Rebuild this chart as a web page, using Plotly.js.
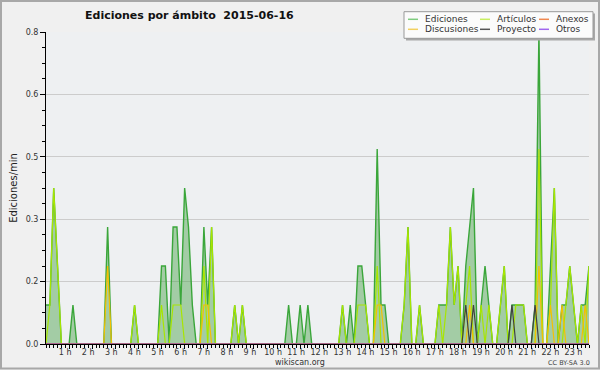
<!DOCTYPE html>
<html><head><meta charset="utf-8">
<script src="https://cdn.plot.ly/plotly-3.0.1.min.js"></script>
<style>html,body{margin:0;padding:0;background:#f0f0f0;}#chart{width:600px;height:370px;}</style>
</head><body><div id="chart"></div>
<script>
// Tick labels (hours of the day)
const hourTicks = [1,2,3,4,5,6,7,8,9,10,11,12,13,14,15,16,17,18,19,20,21,22,23];
const hourLabels = ['1 h','2 h','3 h','4 h','5 h','6 h','7 h','8 h','9 h','10 h','11 h','12 h',
  '13 h','14 h','15 h','16 h','17 h','18 h','19 h','20 h','21 h','22 h','23 h'];

// Edits per minute, 10-minute bins from 00:00 to 23:30 (one row per hour)
const ediciones = [
  0.1,0.1,0.4,0.2,0,0,
  0,0.1,0,0,0,0,
  0,0,0,0,0.3,0,
  0,0,0,0,0,0.1,
  0,0,0,0,0,0,
  0.2,0.2,0,0.3,0.3,0.1,
  0.4,0.3,0.1,0,0,0.3,
  0.1,0.3,0,0,0,0,
  0,0.1,0,0.1,0,0,
  0,0,0,0,0,0,
  0,0,0,0.1,0,0,
  0.1,0,0.1,0,0,0,
  0,0,0,0,0,0.1,
  0,0.1,0,0.2,0.2,0.1,
  0,0,0.5,0.1,0.1,0,
  0,0,0,0.1,0.3,0,
  0,0.1,0,0,0,0,
  0.1,0.1,0.1,0.3,0.1,0.2,
  0,0.2,0.3,0.4,0,0.1,
  0.2,0.1,0,0,0.1,0.2,
  0,0.1,0.1,0.1,0.1,0,
  0,0.1,0.8,0,0,0.2,
  0.4,0,0.1,0.1,0.2,0.1,
  0,0.1,0.1,0.2
];
const articulos = [
  0,0.1,0.4,0.2,0,0,
  0,0,0,0,0,0,
  0,0,0,0,0,0,
  0,0,0,0,0,0.1,
  0,0,0,0,0,0,
  0.1,0,0,0.1,0.1,0.1,
  0,0,0,0,0,0.2,
  0,0.3,0,0,0,0,
  0,0.1,0,0.1,0,0,
  0,0,0,0,0,0,
  0,0,0,0,0,0,
  0,0,0,0,0,0,
  0,0,0,0,0,0.1,
  0,0,0,0.1,0.1,0.1,
  0,0,0.2,0,0,0,
  0,0,0,0.1,0.3,0,
  0,0.1,0,0,0,0,
  0.1,0,0.1,0.3,0.1,0.2,
  0,0.1,0.2,0,0,0.1,
  0,0.1,0,0,0.1,0.2,
  0,0,0.1,0.1,0.1,0,
  0,0,0.5,0,0,0.1,
  0.4,0,0,0.1,0.2,0.1,
  0,0.1,0,0.2
];
const discusiones = [
  0,0,0,0,0,0,
  0,0,0,0,0,0,
  0,0,0,0,0.2,0,
  0,0,0,0,0,0,
  0,0,0,0,0,0,
  0,0,0,0,0,0,
  0,0,0,0,0,0.1,
  0.1,0,0,0,0,0,
  0,0,0,0,0,0,
  0,0,0,0,0,0,
  0,0,0,0,0,0,
  0,0,0,0,0,0,
  0,0,0,0,0,0,
  0,0,0,0,0,0,
  0,0,0.1,0.1,0,0,
  0,0,0,0,0,0,
  0,0,0,0,0,0,
  0,0,0,0,0,0,
  0,0,0.1,0,0,0,
  0,0,0,0,0,0,
  0,0,0,0,0,0,
  0,0,0.2,0,0,0.1,
  0,0,0.1,0,0,0,
  0,0,0.1,0
];
const proyecto = [
  0,0,0,0,0,0,
  0,0,0,0,0,0,
  0,0,0,0,0,0,
  0,0,0,0,0,0,
  0,0,0,0,0,0,
  0,0,0,0,0,0,
  0,0,0,0,0,0,
  0,0,0,0,0,0,
  0,0,0,0,0,0,
  0,0,0,0,0,0,
  0,0,0,0,0,0,
  0,0,0,0,0,0,
  0,0,0,0,0,0,
  0,0,0,0,0,0,
  0,0,0,0,0,0,
  0,0,0,0,0,0,
  0,0,0,0,0,0,
  0,0,0,0,0,0,
  0,0.1,0,0.1,0,0,
  0,0,0,0,0,0,
  0,0.1,0,0,0,0,
  0,0.1,0,0,0,0,
  0,0,0,0,0,0,
  0,0,0,0
];
const anexos = [
  0,0,0,0,0,0, 0,0,0,0,0,0, 0,0,0,0,0,0, 0,0,0,0,0,0,
  0,0,0,0,0,0, 0,0,0,0,0,0, 0,0,0,0,0,0, 0,0,0,0,0,0,
  0,0,0,0,0,0, 0,0,0,0,0,0, 0,0,0,0,0,0, 0,0,0,0,0,0,
  0,0,0,0,0,0, 0,0,0,0,0,0, 0,0,0,0,0,0, 0,0,0,0,0,0,
  0,0,0,0,0,0, 0,0,0,0,0,0, 0,0,0,0,0,0, 0,0,0,0,0,0,
  0,0,0,0,0,0, 0,0,0,0,0,0, 0,0,0,0,0,0, 0,0,0,0
];
const otros = [
  0,0,0,0,0,0, 0,0,0,0,0,0, 0,0,0,0,0,0, 0,0,0,0,0,0,
  0,0,0,0,0,0, 0,0,0,0,0,0, 0,0,0,0,0,0, 0,0,0,0,0,0,
  0,0,0,0,0,0, 0,0,0,0,0,0, 0,0,0,0,0,0, 0,0,0,0,0,0,
  0,0,0,0,0,0, 0,0,0,0,0,0, 0,0,0,0,0,0, 0,0,0,0,0,0,
  0,0,0,0,0,0, 0,0,0,0,0,0, 0,0,0,0,0,0, 0,0,0,0,0,0,
  0,0,0,0,0,0, 0,0,0,0,0,0, 0,0,0,0,0,0, 0,0,0,0
];

// x position of each 10-minute bin, in hours
const hours = ediciones.map((_, i) => i / 6);

// pixel -> paper helpers (plot area: x 46..589, y 32..344)
const L = 46, R = 11, T = 32, B = 26, W = 600, H = 370;
const PW = W - L - R, PH = H - T - B;
const px = X => (X - L) / PW;
const py = Y => (H - B - Y) / PH;

// series styles + legend slot (column left x, row y in pixels)
const series = [
  {name:'Ediciones',   y: ediciones,   color:'#3aa63a', key:'#7fcc7f', width:1.4, fill:true,  lx:403, ly:19.3},
  {name:'Artículos',   y: articulos,   color:'#a8e600', key:'#c8ee60', width:1.2, fill:false, lx:475, ly:19.3},
  {name:'Discusiones', y: discusiones, color:'#f5c000', key:'#f2d060', width:1.2, fill:false, lx:403, ly:29.3},
  {name:'Proyecto',    y: proyecto,    color:'#404040', key:'#555555', width:1.2, fill:false, lx:475, ly:29.3},
  {name:'Anexos',      y: anexos,      color:'#f07030', key:'#f08850', width:1.2, fill:false, lx:534, ly:19.3},
  {name:'Otros',       y: otros,       color:'#9955dd', key:'#a066ee', width:1.2, fill:false, lx:534, ly:29.3}
];

const traces = series.map(s => ({
  type:'scatter', mode:'lines', x: hours, y: s.y, name: s.name,
  line:{color:s.color, width:s.width, shape:'linear'},
  fill: s.fill ? 'tozeroy' : 'none',
  fillcolor: 'rgba(70,160,70,0.45)',
  showlegend:false, hoverinfo:'skip'
}));

const shapes = [
  {type:'rect', xref:'paper', yref:'paper', x0:px(1), x1:px(599), y0:py(368.5), y1:py(1), line:{color:'#a8a8a8', width:2}, fillcolor:'rgba(0,0,0,0)', layer:'above'},
  {type:'rect', xref:'paper', yref:'paper', x0:px(406), x1:px(595), y0:py(40.5), y1:py(13.5), line:{width:0}, fillcolor:'#a8a8a8', layer:'above'},
  {type:'rect', xref:'paper', yref:'paper', x0:px(404), x1:px(593), y0:py(38.3), y1:py(11.7), line:{color:'#999', width:1}, fillcolor:'#fbfbfb', layer:'above'}
];
const annotations = [
  {text:'wikiscan.org', xref:'paper', yref:'paper', x:px(300), y:py(362), showarrow:false, xanchor:'center', yanchor:'middle', font:{size:8, color:'#333'}},
  {text:'CC BY-SA 3.0', xref:'paper', yref:'paper', x:px(569), y:py(363), showarrow:false, xanchor:'center', yanchor:'middle', font:{size:6.5, color:'#444'}}
];
// legend keys (short line + name) inside the legend box
series.forEach(s => {
  shapes.push({type:'line', xref:'paper', yref:'paper', x0:px(s.lx + 5), x1:px(s.lx + 15), y0:py(s.ly), y1:py(s.ly),
    line:{color:s.key, width:1.5}, layer:'above'});
  annotations.push({text:s.name, xref:'paper', yref:'paper', x:px(s.lx + 20), y:py(s.ly), showarrow:false,
    xanchor:'left', yanchor:'middle', font:{size:9, color:'#333'}});
});

const layout = {
  width: W, height: H,
  margin: {l:L, r:R, t:T, b:B, autoexpand:false},
  paper_bgcolor:'#f0f0f0', plot_bgcolor:'#eef0f2',
  font:{family:'DejaVu Sans, sans-serif', size:8, color:'#333'},
  showlegend:false,
  title:{text:'<b>Ediciones por ámbito\u00a0\u00a02015-06-16</b>',
    font:{family:'DejaVu Sans, sans-serif', size:11, color:'#111'},
    x:85/W, xref:'container', xanchor:'left', y:1-15.5/H, yref:'container', yanchor:'middle'},
  xaxis:{range:[0, 23.5], tickmode:'array', tickvals:hourTicks, ticktext:hourLabels,
    ticks:'outside', ticklen:4, tickcolor:'#000', tickwidth:1, ticklabelshift:-4, ticklabelstandoff:-4,
    showline:true, linecolor:'#000', linewidth:1, showgrid:false, zeroline:false,
    tickfont:{size:8, color:'#333'},
    minor:{tickmode:'linear', tick0:0, dtick:1/6, ticks:'outside', ticklen:3, tickcolor:'#000', showgrid:false}},
  yaxis:{range:[0, 0.8], tickmode:'array', tickvals:[0,0.16,0.32,0.48,0.64,0.8], tickformat:'.1f',
    ticks:'outside', ticklen:5, tickcolor:'#000', showline:true, linecolor:'#000', linewidth:1,
    showgrid:true, gridcolor:'#cccccc', gridwidth:1, zeroline:false,
    tickfont:{size:8, color:'#333'},
    title:{text:'Ediciones/min', font:{size:10, color:'#222'}, standoff:6},
    minor:{tickmode:'linear', tick0:0, dtick:0.04, ticks:'outside', ticklen:3, tickcolor:'#000', showgrid:false}},
  shapes: shapes,
  annotations: annotations
};

Plotly.newPlot('chart', traces, layout, {staticPlot:true, displayModeBar:false});
</script></body></html>
